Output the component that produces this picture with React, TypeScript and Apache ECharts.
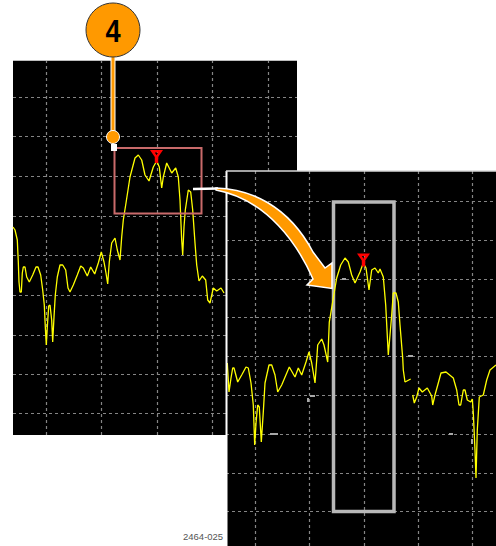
import React, { useEffect, useRef } from "react";
import * as echarts from "echarts";

// Left (overview) trace: x, y in the panel's display scale
const leftTrace: number[][] = [
  [13,227],[15,230],[17.3,240],[18.3,262],[19,282],[20,292],[21.3,292],[22.3,273],[23.3,267],[25,267],[26.7,277],[29.3,282],[32.7,275],[36,267],[38,267],[40.7,275],[42.7,290],[44.3,305],[45.3,327],[46.3,345],[47.3,327],[48.7,306],[50,305],[51.7,320],[52.7,342],[54,317],[55.3,295],[57.3,277],[60,265],[62.7,265],[65.7,270],[68,288],[70,292],[73.3,285],[77.3,275],[80.7,266],[83.3,268],[87.3,276],[90.7,267],[94.7,274],[98.3,263],[101.3,252],[104,262],[106,273],[107.7,284],[109.3,262],[111.7,243],[115,238],[117.3,250],[120,260],[121.7,237],[123.3,220],[126,203],[130,177],[135,158],[138.3,155],[141.7,160],[145,175],[149,181],[153.3,167],[156.7,161],[159.3,167],[161.7,188],[163.3,177],[166.7,163],[171.7,173],[175.7,168],[178.3,177],[180,200],[181.7,240],[182.7,255],[184,227],[185.3,210],[188.3,190],[190.7,192],[192.7,210],[195,243],[196.7,265],[199,281],[202.3,276],[205.7,280],[207.7,300],[210,303],[213.3,288],[216.7,291],[221,288],[224,293],
];

// Right (zoomed) trace; null marks the gap in the line
const rightTrace: (number[] | null)[] = [
  [227.3,363],[229,392],[231,378],[232.7,368],[234,368],[237.7,382],[241.7,375],[246,367],[248.3,368],[251,383],[253.3,405],[254.7,445],[256,423],[257.7,405],[259.3,407],[261.3,442],[263.3,412],[265,383],[269,365],[271.7,365],[275,375],[277.7,392],[281.7,385],[289.3,367],[295,377],[298.3,368],[301.7,375],[306,362],[309,352],[311.7,363],[315,383],[316.7,360],[317.7,345],[321.7,339],[324,345],[327.7,362],[329.3,322],[333.3,298],[336.7,278],[340.7,265],[345,258],[348.3,262],[351.7,275],[355,283],[360,272],[363.3,263],[366,268],[369,290],[371.7,270],[375,268],[378.3,273],[380,269],[383.3,277],[385.7,305],[388.3,355],[391.7,315],[393.3,293],[396,293],[398.3,302],[400,325],[402.7,358],[403.3,370],[405,382],[410.7,379],null,[412.7,395],[414.3,403],[416.7,397],[419,388],[422.3,392],[427.3,388],[431.7,396],[432.7,405],[435,395],[438.3,383],[441,373],[446,372],[453.3,378],[456.7,390],[459,405],[460.7,405],[463.3,390],[465,390],[467.3,400],[470.7,402],[472.3,399],[473.3,413],[475,450],[476,478],[477.3,430],[479.3,397],[483.3,395],[486.7,380],[490,370],[496,365],
];

const leftGridX = [46, 101.5, 157, 212.5, 268];
const leftGridY = [97.7, 136.7, 176, 216, 255, 295.5, 335, 374, 413.3];
const rightGridX = [255, 309, 364, 418, 472];
const rightGridY = [201.7, 240.7, 279, 317.5, 356, 395.5, 434.3, 473, 511.3];
const leftPeak = [156.5, 156.5];
const rightPeak = [363.5, 260];
// Short bright grey residues on the zoomed display: x0, y0, x1, y1
const residues = [
  [408, 356, 413, 356],
  [270, 434, 278, 434],
  [310, 395.5, 315, 395.5],
  [449, 434, 453, 434],
  [342, 278.5, 346, 278.5],
  [472, 439, 472, 444],
  [308, 398, 308, 402],
];
const calloutLabel = "4";
const figureId = "2464-025";

const ARROW =
  "M216 188 C250 189 288 205 313 252 L325 268 L332 263 L332 288.5 L307 285 L313 279 C298 245 268 200 216 190 Z";
echarts.graphic.registerShape("sweepArrow", echarts.graphic.extendPath(ARROW, {}) as any);

const MARKER = "path://M0 0 L13 0 L8.2 7 L8.2 13 L4.8 13 L4.8 7 Z M4.8 2.6 L6.5 5.2 L8.2 2.6 Z";

const gridLines = (xs: number[], ys: number[], x0: number, x1: number, y0: number, y1: number, z: number) => ({
  silent: true,
  symbol: "none",
  z,
  label: { show: false },
  lineStyle: { color: "#858585", type: [3, 3] as any, width: 1.2 },
  data: [
    ...xs.map((v) => [{ coord: [v, y0] }, { coord: [v, y1] }]),
    ...ys.map((v) => [{ coord: [x0, v] }, { coord: [x1, v] }]),
  ],
});

const residueLines = () =>
  residues.map(([a, b, c, d]) => [
    { coord: [a, b], lineStyle: { color: "#a8a8a8", type: "solid", width: 2 } },
    { coord: [c, d] },
  ]);

const peak = (p: number[], z: number) => ({
  silent: true,
  z,
  symbol: MARKER,
  symbolSize: [13, 13],
  label: { show: false },
  itemStyle: { color: "#ff0000", borderWidth: 0 },
  data: [{ coord: p }],
});

export default function App() {
  const ref = useRef<HTMLDivElement>(null);
  useEffect(() => {
    const chart = echarts.init(ref.current!, undefined, { renderer: "svg" });
    const axisOff = { show: false };
    const rightLines = gridLines(rightGridX, rightGridY, 226, 496, 171, 546, 6);
    chart.setOption({
      animation: false,
      backgroundColor: "#ffffff",
      grid: [
        { left: 13, top: 60, width: 284, height: 375, show: true, backgroundColor: "#000", borderWidth: 0, z: 0 },
        { left: 226, top: 171, width: 270, height: 375, show: true, backgroundColor: "#000", borderWidth: 0, z: 5 },
      ],
      xAxis: [
        { type: "value", gridIndex: 0, min: 13, max: 297, ...axisOff },
        { type: "value", gridIndex: 1, min: 226, max: 496, ...axisOff },
      ],
      yAxis: [
        { type: "value", gridIndex: 0, min: 60, max: 435, inverse: true, ...axisOff },
        { type: "value", gridIndex: 1, min: 171, max: 546, inverse: true, ...axisOff },
      ],
      series: [
        {
          type: "line", xAxisIndex: 0, yAxisIndex: 0, z: 2, silent: true, showSymbol: false, symbol: "none",
          data: leftTrace,
          lineStyle: { color: "#ffff00", width: 1.3 },
          markLine: gridLines(leftGridX, leftGridY, 13, 297, 60, 435, 1),
          markPoint: peak(leftPeak, 3),
        },
        {
          type: "line", xAxisIndex: 1, yAxisIndex: 1, z: 7, silent: true, showSymbol: false, symbol: "none",
          connectNulls: false,
          data: rightTrace,
          lineStyle: { color: "#ffff00", width: 1.3 },
          markLine: { ...rightLines, data: [...rightLines.data, ...residueLines()] },
          markPoint: peak(rightPeak, 8),
        },
      ],
      graphic: [
        // panel edges
        { type: "line", z: 4, shape: { x1: 13, y1: 60.5, x2: 297, y2: 60.5 }, style: { stroke: "#bdbdbd", lineWidth: 1 } },
        { type: "line", z: 9, shape: { x1: 226.5, y1: 171, x2: 226.5, y2: 546 }, style: { stroke: "#ffffff", lineWidth: 2 } },
        { type: "line", z: 9, shape: { x1: 226, y1: 171, x2: 496, y2: 171 }, style: { stroke: "#d8d8d8", lineWidth: 1.5 } },
        // selection boxes
        { type: "rect", z: 4, shape: { x: 114.5, y: 148, width: 87, height: 65.5 }, style: { fill: "none", stroke: "#c96a6a", lineWidth: 2 } },
        { type: "rect", z: 6.5, shape: { x: 333.5, y: 202, width: 60.5, height: 309.5 }, style: { fill: "none", stroke: "#b8b8b8", lineWidth: 3.5 } },
        // callout
        { type: "line", z: 20, shape: { x1: 113, y1: 55, x2: 113, y2: 137 }, style: { stroke: "#ffffff", lineWidth: 5 } },
        { type: "line", z: 21, shape: { x1: 113, y1: 55, x2: 113, y2: 137 }, style: { stroke: "#ff9900", lineWidth: 3 } },
        { type: "rect", z: 21, shape: { x: 111, y: 144, width: 6, height: 7 }, style: { fill: "#ffffff" } },
        { type: "circle", z: 22, shape: { cx: 113, cy: 137, r: 6.5 }, style: { fill: "#ff9900", stroke: "#ffffff", lineWidth: 1 } },
        { type: "circle", z: 22, shape: { cx: 113, cy: 30, r: 27 }, style: { fill: "#ff9900", stroke: "#333333", lineWidth: 1 } },
        {
          type: "text", z: 23, x: 113, y: 31, scaleX: 0.85,
          style: { text: calloutLabel, fill: "#000000", font: 'bold 32px "Liberation Sans"', textAlign: "center", textVerticalAlign: "middle" },
        },
        // arrow
        { type: "line", z: 19, shape: { x1: 193, y1: 189, x2: 218, y2: 188.5 }, style: { stroke: "#ffffff", lineWidth: 2.5 } },
        { type: "sweepArrow", z: 20, x: 0, y: 0, style: { fill: "#ff9900", stroke: "#ffffff", lineWidth: 1.5 } },
        {
          type: "text", z: 23, x: 183, y: 536,
          style: { text: figureId, fill: "#555555", font: '9.5px "Liberation Sans"', textAlign: "left", textVerticalAlign: "middle" },
        },
      ],
    });
    return () => chart.dispose();
  }, []);
  return <div ref={ref} style={{ position: "absolute", left: 0, top: 0, width: 496, height: 546 }} />;
}
